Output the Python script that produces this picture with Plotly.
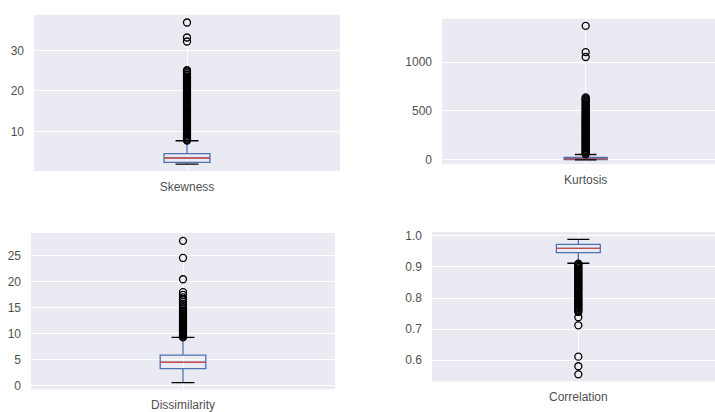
import plotly.graph_objects as go

# ---------------- data ----------------
names = ["Skewness", "Kurtosis", "Dissimilarity", "Correlation"]

# five-number summaries: lower whisker, q1, median, q3, upper whisker
skew_stats = [1.9, 2.35, 3.45, 4.5, 7.7]
kurt_stats = [-1.5, 1.0, 8.0, 22.0, 53.0]
dis_stats = [0.6, 3.3, 4.5, 5.9, 9.3]
corr_stats = [0.912, 0.946, 0.960, 0.973, 0.989]

# values beyond the whiskers
skew_out = [7.75, 7.9, 8.2, 8.5, 8.7, 9.0, 9.3, 9.6, 9.8, 10.1, 10.4, 10.7,
            11.0, 11.2, 11.5, 11.8, 12.1, 12.4, 12.6, 12.9, 13.2, 13.5, 13.8,
            14.0, 14.3, 14.6, 14.9, 15.2, 15.4, 15.7, 16.0, 16.3, 16.6, 16.8,
            17.1, 17.4, 17.7, 18.0, 18.2, 18.5, 18.8, 19.1, 19.4, 19.6, 19.9,
            20.2, 20.5, 20.8, 21.0, 21.3, 21.6, 21.9, 22.2, 22.4, 22.7, 23.0,
            23.3, 23.6, 24.0, 24.4, 24.8, 25.1, 32.2, 33.2, 36.9]
kurt_out = [55, 64, 75, 84, 95, 104, 115, 124, 135, 146, 155, 166, 175, 186,
            195, 206, 215, 226, 236, 245, 256, 265, 276, 285, 296, 305, 316,
            325, 336, 345, 356, 366, 375, 386, 395, 406, 416, 425, 436, 447,
            458, 470, 482, 494, 505, 517, 530, 542, 555, 568, 580, 593, 605,
            617, 628, 639, 1054, 1104, 1374]
dis_out = [9.3, 9.5, 9.7, 9.9, 10.1, 10.35, 10.55, 10.8, 11.0, 11.2, 11.45,
           11.65, 11.9, 12.1, 12.3, 12.55, 12.75, 13.0, 13.2, 13.45, 13.7,
           13.95, 14.2, 14.4, 14.75, 15.1, 15.5, 15.8, 16.2, 16.6, 17.0,
           17.5, 18.0, 20.5, 24.6, 27.9]
corr_out = [0.911, 0.907, 0.903, 0.899, 0.895, 0.891, 0.887, 0.883, 0.879,
            0.875, 0.871, 0.867, 0.863, 0.859, 0.855, 0.851, 0.847, 0.843,
            0.839, 0.835, 0.831, 0.827, 0.823, 0.819, 0.815, 0.811, 0.807,
            0.803, 0.799, 0.795, 0.791, 0.787, 0.783, 0.779, 0.775, 0.771,
            0.767, 0.763, 0.759, 0.755, 0.738, 0.712, 0.611, 0.580, 0.554]

# y-axis ticks for each panel
skew_ticks = [10, 20, 30]
kurt_ticks = [0, 500, 1000]
dis_ticks = [0, 5, 10, 15, 20, 25]
corr_ticks = [0.6, 0.7, 0.8, 0.9, 1.0]

# ---------------- styling / layout ----------------
W, H = 715, 412
BLUE = "#4C72B0"
RED = "#C44E52"
BG = "#EAEAF2"
TXT = "#505050"
FONT = "Liberation Sans, Arial, sans-serif"
FSIZE = 12
BOX_W = 0.15

# panel rectangles in pixels: (left, top, right, bottom), x range, y range, tick format
panels = [
    (names[0], skew_stats, skew_out, skew_ticks, (34, 12, 340, 171), [0.5, 1.5], [0.2, 38.8], "d"),
    (names[1], kurt_stats, kurt_out, kurt_ticks, (442, 16, 715, 164), [0.5, 1.45], [-47, 1447], "d"),
    (names[2], dis_stats, dis_out, dis_ticks, (31, 234, 335, 393), [0.5, 1.5], [-0.7, 29.4], "d"),
    (names[3], corr_stats, corr_out, corr_ticks, (432, 233, 715, 385), [0.5, 1.467], [0.531, 1.0126], ".1f"),
]

fig = go.Figure()
layout = {}

for i, (name, st, out, ticks, rect, xr, yr, fmt) in enumerate(panels, start=1):
    sfx = "" if i == 1 else str(i)
    xa, ya = "x" + sfx, "y" + sfx
    lo, q1, med, q3, hi = st

    fig.add_trace(go.Box(
        x=[1], q1=[q1], median=[med], q3=[q3], lowerfence=[lo], upperfence=[hi],
        width=BOX_W, whiskerwidth=0, boxpoints=False,
        line=dict(color=BLUE, width=1.3), fillcolor="rgba(0,0,0,0)",
        xaxis=xa, yaxis=ya, showlegend=False, hoverinfo="skip"))
    # median line
    fig.add_trace(go.Scatter(
        x=[1 - BOX_W / 2, 1 + BOX_W / 2], y=[med, med], mode="lines",
        line=dict(color=RED, width=1.4), xaxis=xa, yaxis=ya,
        showlegend=False, hoverinfo="skip"))
    # whisker caps
    for v in (lo, hi):
        fig.add_trace(go.Scatter(
            x=[1 - BOX_W / 4, 1 + BOX_W / 4], y=[v, v], mode="lines",
            line=dict(color="black", width=1.3), xaxis=xa, yaxis=ya,
            showlegend=False, hoverinfo="skip"))
    # fliers
    fig.add_trace(go.Scatter(
        x=[1] * len(out), y=out, mode="markers",
        marker=dict(symbol="circle-open", size=7, color="black",
                    line=dict(width=1.3, color="black")),
        xaxis=xa, yaxis=ya, showlegend=False, hoverinfo="skip"))

    l, t, r, b = rect
    layout["xaxis" + sfx] = dict(
        domain=[l / W, r / W], range=xr, anchor=ya,
        tickvals=[1], ticktext=[name], showgrid=True, gridcolor="white",
        gridwidth=1.2, zeroline=False, showline=False, ticks="",
        ticklabelstandoff=7, tickfont=dict(family=FONT, size=FSIZE, color=TXT),
        fixedrange=True)
    layout["yaxis" + sfx] = dict(
        domain=[1 - b / H, 1 - t / H], range=yr, anchor=xa,
        tickvals=ticks, tickformat=fmt, showgrid=True, gridcolor="white",
        gridwidth=1.2, zeroline=False, showline=False, ticks="",
        ticklabelstandoff=9, tickfont=dict(family=FONT, size=FSIZE, color=TXT),
        fixedrange=True)

fig.update_layout(
    width=W, height=H, margin=dict(l=0, r=0, t=0, b=0),
    paper_bgcolor="white", plot_bgcolor=BG, showlegend=False,
    **layout)

fig.write_html("out.html", config={"displayModeBar": False})
